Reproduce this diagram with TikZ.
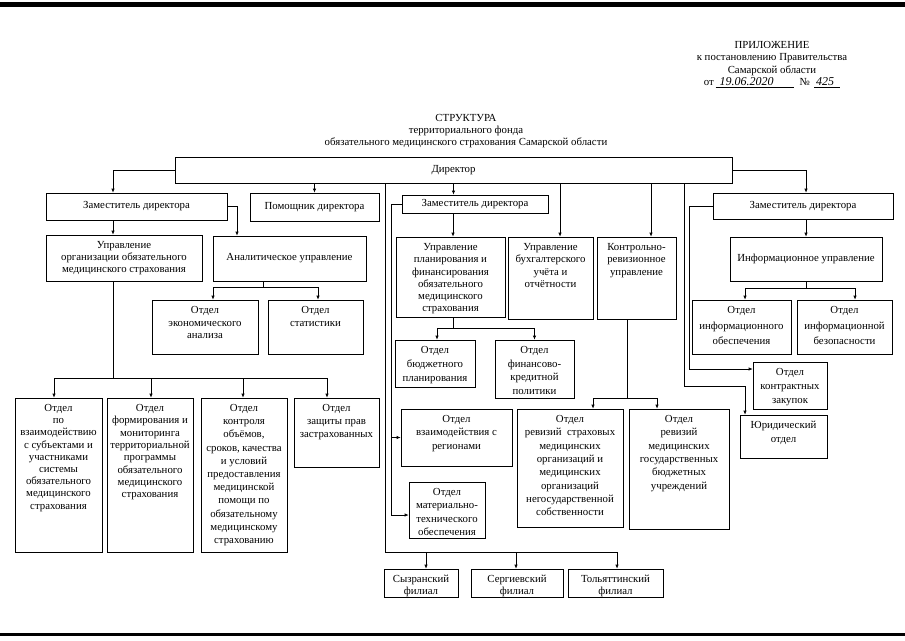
\documentclass[tikz,border=0pt]{standalone}
\usepackage{fontspec}
\setmainfont{Liberation Serif}
\usetikzlibrary{arrows.meta}

\tikzset{
  box/.style={draw, line width=0.6pt, inner sep=0pt, align=center},
  lbl/.style={anchor=north, align=center, inner sep=0pt, yshift=-6.5pt},
  lead/.style={font=\fontsize{10.8}{#1}\selectfont},
  link/.style={line width=0.6pt},
  arr/.style={line width=0.6pt, -{Latex[length=4pt,width=3.2pt]}},
}

\begin{document}
\begin{tikzpicture}[x=1pt,y=-1pt,font=\fontsize{10.8}{12.3}\selectfont]
    \useasboundingbox (0,0) rectangle (905,640);

    % Scan edges
    \fill (0,2) rectangle (905,7);
    \fill (0,633) rectangle (905,636);

    % Header and title
    \node[align=center] (appx) at (772,64.5) {ПРИЛОЖЕНИЕ\\к постановлению Правительства\\Самарской области\\от\,\underline{\hspace{4pt}{\fontsize{12}{12}\selectfont\textit{19.06.2020}}\hspace{20pt}}\hspace{6pt}№\hspace{4pt}\underline{{\fontsize{12}{12}\selectfont\textit{\,425}}\hspace{6pt}}};
    \node[align=center] (title) at (466,131) {СТРУКТУРА\\территориального фонда\\обязательного медицинского страхования Самарской области};

    % Director
    \node[box, minimum width=557, minimum height=26] (dir) at (453.5,170) {Директор};

    % Left branch
    \node[box, minimum width=181, minimum height=27] (dep1) at (136.5,206.5) {Заместитель директора};
    \node[box, minimum width=129, minimum height=28] (pom) at (314.5,207) {Помощник директора};
    \node[box, minimum width=156, minimum height=46] (uoms) at (124,258) {Управление\\организации обязательного\\медицинского страхования};
    \node[box, minimum width=153, minimum height=45] (anal) at (289.5,258.5) {Аналитическое управление};
    \node[box, minimum width=106, minimum height=54, label={[lbl,lead=12.5]north:{Отдел\\экономического\\анализа}}] (ekon) at (205,327) {};
    \node[box, minimum width=95, minimum height=54, label={[lbl,lead=12.5]north:{Отдел\\статистики}}] (stat) at (315.5,327) {};
    \node[box, minimum width=87, minimum height=154, label={[lbl,lead=12.2]north:{Отдел\\по\\взаимодействию\\с субъектами и\\участниками\\системы\\обязательного\\медицинского\\страхования}}] (otdA) at (58.5,475) {};
    \node[box, minimum width=86, minimum height=154, label={[lbl,lead=12.3]north:{Отдел\\формирования и\\мониторинга\\территориальной\\программы\\обязательного\\медицинского\\страхования}}] (otdB) at (150,475) {};
    \node[box, minimum width=86, minimum height=154, label={[lbl,lead=13.2]north:{Отдел\\контроля\\объёмов,\\сроков, качества\\и условий\\предоставления\\медицинской\\помощи по\\обязательному\\медицинскому\\страхованию}}] (otdC) at (244,475) {};
    \node[box, minimum width=85, minimum height=69, label={[lbl,lead=13]north:{Отдел\\защиты прав\\застрахованных}}] (otdD) at (336.5,432.5) {};

    % Middle branch
    \node[box, minimum width=146, minimum height=18] (dep2) at (475,204) {Заместитель директора};
    \node[box, minimum width=109, minimum height=80, label={[lbl,lead=12.3]north:{Управление\\планирования и\\финансирования\\обязательного\\медицинского\\страхования}}] (upf) at (450.5,277) {};
    \node[box, minimum width=85, minimum height=82, label={[lbl,lead=12.3]north:{Управление\\бухгалтерского\\учёта и\\отчётности}}] (buh) at (550.5,278) {};
    \node[box, minimum width=79, minimum height=82, label={[lbl,lead=12.5]north:{Контрольно-\\ревизионное\\управление}}] (kru) at (636.5,278) {};
    \node[box, minimum width=80, minimum height=47, label={[lbl,lead=14]north:{Отдел\\бюджетного\\планирования}}] (bud) at (435,363.5) {};
    \node[box, minimum width=79, minimum height=58, label={[lbl,lead=13.7]north:{Отдел\\финансово-\\кредитной\\политики}}] (fin) at (534.5,369) {};
    \node[box, minimum width=111, minimum height=57, label={[lbl,lead=13.3]north:{Отдел\\взаимодействия с\\регионами}}] (reg) at (456.5,437.5) {};
    \node[box, minimum width=76, minimum height=56, label={[lbl,lead=13.3]north:{Отдел\\материально-\\технического\\обеспечения}}] (mto) at (447,510) {};
    \node[box, minimum width=106, minimum height=118, label={[lbl,lead=13.3]north:{Отдел\\ревизий \ страховых\\медицинских\\организаций и\\медицинских\\организаций\\негосударственной\\собственности}}] (smo) at (570,468) {};
    \node[box, minimum width=100, minimum height=120, label={[lbl,lead=13.3]north:{Отдел\\ревизий\\медицинских\\государственных\\бюджетных\\учреждений}}] (mgbu) at (679,469) {};
    \node[box, minimum width=74, minimum height=28, label={[lbl,lead=11.5]north:{Сызранский\\филиал}}] (syz) at (421,583) {};
    \node[box, minimum width=92, minimum height=28, label={[lbl,lead=11.5]north:{Сергиевский\\филиал}}] (serg) at (517,583) {};
    \node[box, minimum width=95, minimum height=28, label={[lbl,lead=11.5]north:{Тольяттинский\\филиал}}] (tol) at (615.5,583) {};

    % Right branch
    \node[box, minimum width=180, minimum height=26] (dep3) at (803,206) {Заместитель директора};
    \node[box, minimum width=152, minimum height=44] (info) at (806,259) {Информационное управление};
    \node[box, minimum width=99, minimum height=54, label={[lbl,lead=15.5]north:{Отдел\\информационного\\обеспечения}}] (infob) at (741.5,327) {};
    \node[box, minimum width=95, minimum height=54, label={[lbl,lead=15.5]north:{Отдел\\информационной\\безопасности}}] (infbz) at (844.5,327) {};
    \node[box, minimum width=74, minimum height=47, label={[lbl,lead=14]north:{Отдел\\контрактных\\закупок}}] (contr) at (790,385.5) {};
    \node[box, minimum width=87, minimum height=43, label={[lbl,lead=14]north:{Юридический\\отдел}}] (yur) at (783.5,436.5) {};

    % Bus coordinates
    \coordinate (uomsbus) at (113,378);
    \coordinate (analbus) at (263,287);
    \coordinate (dep2bus) at (391,204);
    \coordinate (upfbus) at (453,328);
    \coordinate (krubus) at (627,398);
    \coordinate (filbus) at (385,552);
    \coordinate (yurbus) at (684,386);
    \coordinate (dep3bus) at (689,206);
    \coordinate (infobus) at (806,288);

    % Director links
    \draw[arr] (dir.west) -| ([xshift=-23.5]dep1.north);
    \draw[arr] (pom.north |- dir.south) -- (pom.north);
    \draw[arr] (dir.south) -- (dir.south |- dep2.north);
    \draw[arr] ([xshift=9.5]buh.north |- dir.south) -- ([xshift=9.5]buh.north);
    \draw[arr] ([xshift=14.5]kru.north |- dir.south) -- ([xshift=14.5]kru.north);
    \draw[arr] (dir.east) -| ([xshift=3]dep3.north);
    \draw[arr] (yurbus |- dir.south) -- (yurbus) -| ([xshift=-38.5]yur.north);
    \draw[arr] (filbus |- dir.south) -- (filbus) -| ([xshift=1.5]tol.north);
    \foreach \n/\s in {syz/5, serg/-1}
        \draw[arr] ([xshift=\s]\n.north |- filbus) -- ([xshift=\s]\n.north);

    % Left deputy
    \draw[arr] ([xshift=-23.5]dep1.south) -- ([xshift=-23.5]dep1.south |- uoms.north);
    \draw[arr] (dep1.east) -| ([xshift=-52.5]anal.north);
    \draw[link] ([xshift=-11]uoms.south) -- (uomsbus);
    \draw[link] ([xshift=-4.5]otdA.north |- uomsbus) -- ([xshift=-9.5]otdD.north |- uomsbus);
    \foreach \n/\s in {otdA/-4.5, otdB/1, otdC/-1, otdD/-9.5}
        \draw[arr] ([xshift=\s]\n.north |- uomsbus) -- ([xshift=\s]\n.north);
    \draw[link] ([xshift=-26.5]anal.south) -- (analbus);
    \draw[link] ([xshift=8]ekon.north |- analbus) -- ([xshift=2.5]stat.north |- analbus);
    \foreach \n/\s in {ekon/8, stat/2.5}
        \draw[arr] ([xshift=\s]\n.north |- analbus) -- ([xshift=\s]\n.north);

    % Middle deputy
    \draw[arr] ([xshift=-22]dep2.south) -- ([xshift=-22]dep2.south |- upf.north);
    \draw[arr] (dep2.west) -- (dep2bus) |- ([yshift=-5]mto.west);
    \draw[arr] (dep2bus |- reg.west) -- (reg.west);
    \draw[link] (upfbus |- upf.south) -- (upfbus);
    \draw[link] ([xshift=2]bud.north |- upfbus) -- (fin.north |- upfbus);
    \foreach \n/\s in {bud/2, fin/0}
        \draw[arr] ([xshift=\s]\n.north |- upfbus) -- ([xshift=\s]\n.north);
    \draw[link] (krubus |- kru.south) -- (krubus);
    \draw[link] ([xshift=23]smo.north |- krubus) -- ([xshift=-22]mgbu.north |- krubus);
    \foreach \n/\s in {smo/23, mgbu/-22}
        \draw[arr] ([xshift=\s]\n.north |- krubus) -- ([xshift=\s]\n.north);

    % Right deputy
    \draw[arr] (dep3.west) -- (dep3bus) |- ([yshift=16.5]contr.west);
    \draw[arr] (info.north |- dep3.south) -- (info.north);
    \draw[link] (info.south) -- (infobus);
    \draw[link] ([xshift=3.5]infob.north |- infobus) -- ([xshift=10.5]infbz.north |- infobus);
    \foreach \n/\s in {infob/3.5, infbz/10.5}
        \draw[arr] ([xshift=\s]\n.north |- infobus) -- ([xshift=\s]\n.north);
\end{tikzpicture}
\end{document}
